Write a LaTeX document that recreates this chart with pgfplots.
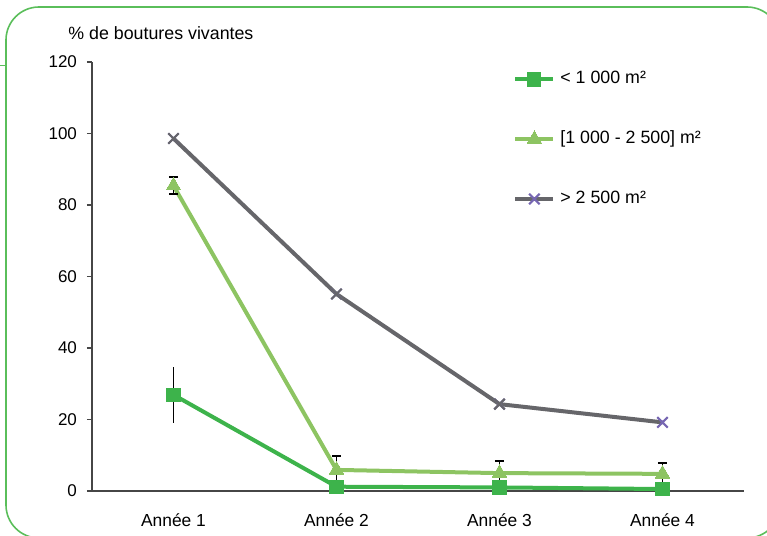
\documentclass[border=0pt]{standalone}
\usepackage{pgfplots}
\pgfplotsset{compat=1.18}
\usepackage{fontspec}
\setmainfont{Liberation Sans}
\definecolor{gA}{RGB}{61,179,75}
\definecolor{gB}{RGB}{141,196,98}
\definecolor{gC}{RGB}{102,102,106}
\definecolor{pC}{RGB}{118,102,178}
\definecolor{frame}{RGB}{90,190,90}
\definecolor{axc}{RGB}{70,70,70}
\begin{document}
\begin{tikzpicture}
\useasboundingbox (0,0) rectangle (383.5pt,268pt);
\clip (0,0) rectangle (383.5pt,268pt);
\draw[frame, line width=0.8pt, rounded corners=16.5pt] (3pt,-1pt) rectangle (390pt,264.5pt);
\draw[frame, line width=0.8pt] (0pt,235.2pt) -- (3pt,235.2pt);
\node[anchor=west, inner sep=0pt, font=\fontsize{8.9}{10}\selectfont] at (34pt,251.5pt) {\% de boutures vivantes};
\begin{axis}[
  scale only axis, width=326pt, height=214.5pt,
  at={(46pt,22.5pt)}, anchor=south west,
  xmin=0.5, xmax=4.5, ymin=0, ymax=120,
  axis x line*=bottom, axis y line*=left,
  axis line style={axc, line width=0.8pt},
  every tick/.style={axc, line width=0.8pt},
  tick align=outside, major tick length=2.5pt,
  ytick={0,20,...,120},
  xtick={1,2,3,4},
  xticklabels={Année 1,Année 2,Année 3,Année 4},
  major x tick style={draw=none},
  extra x ticks={0.5,1.5,2.5,3.5,4.5},
  extra x tick labels={},
  extra x tick style={major x tick style={axc, line width=0.8pt}},
  /pgf/number format/assume math mode=true,
  yticklabel style={font=\fontsize{8.5}{10}\selectfont, xshift=-1.5pt},
  xticklabel style={font=\fontsize{8.7}{10}\selectfont, yshift=-5.5pt},
  legend style={at={(rel axis cs:0.6457,0.986)}, anchor=north west, draw=none, fill=none,
    inner sep=0pt, row sep=18.9pt, font=\fontsize{8.9}{10}\selectfont,
    nodes={inner sep=1pt, text height=6.5pt, text depth=2.5pt}},
  legend cell align=left,
  legend image code/.code={\draw[mark repeat=2,mark phase=2,#1] plot coordinates {(0pt,0pt) (9.5pt,0pt) (19pt,0pt)};},
  error bars/error bar style={black, line width=0.8pt},
]
\addplot[gA, line width=2pt, mark=square*, mark size=3.3pt, mark options={gA, line width=0pt},
  error bars/.cd, y dir=both, y explicit, error mark=none]
  coordinates {(1,26.9) +- (0,7.8) (2,1.2) +- (0,0) (3,1.0) +- (0,0) (4,0.55) +- (0,0)};
\addlegendentry{\hspace{1.5pt}< 1 000 m²}
\addplot[gB, line width=2pt, mark=triangle*, mark size=4.2pt, mark options={gB, line width=0pt},
  error bars/.cd, y dir=both, y explicit, error mark options={rotate=90, mark size=2.3pt, black, line width=1pt}]
  coordinates {(1,85.4) +- (0,2.3) (2,5.9) +- (0,4.0) (3,5.0) +- (0,3.4) (4,4.8) +- (0,3.1)};
\addlegendentry{\hspace{1.5pt}[1 000 - 2 500] m²}
\addplot[gC, line width=2pt, mark=x, mark size=3.7pt, mark options={pC, line width=1pt}]
  coordinates {(1,98.6) (2,55.1) (3,24.3) (4,19.2)};
\addlegendentry{\hspace{1.5pt}> 2 500 m²}
\addplot[only marks, forget plot, mark=x, mark size=3.7pt, mark options={gC, line width=1pt}]
  coordinates {(1,98.6) (2,55.1) (3,24.3)};
\end{axis}
\end{tikzpicture}
\end{document}
